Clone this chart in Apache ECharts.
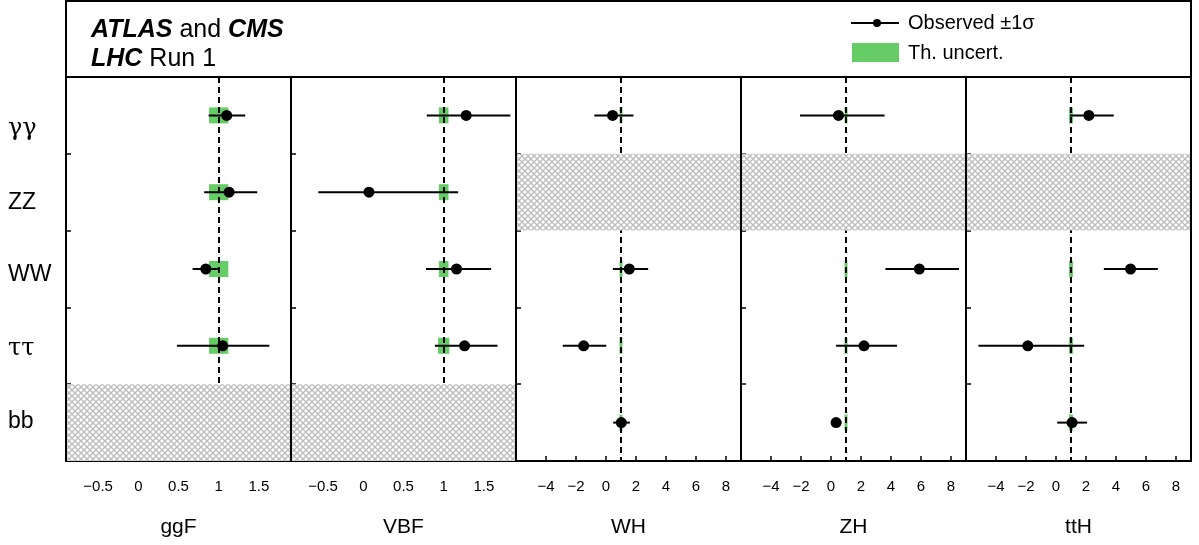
<!DOCTYPE html>
<html><head><meta charset="utf-8">
<script src="https://cdn.jsdelivr.net/npm/echarts@6/dist/echarts.min.js"></script>
<style>html,body{margin:0;padding:0;background:#fff}#c{width:1199px;height:545px}</style>
</head><body><div id="c"></div>
<script>
// ---- data ----
const productions = ['ggF', 'VBF', 'WH', 'ZH', 'ttH'];
const decays = ['γγ', 'ZZ', 'WW', 'ττ', 'bb'];
const xTicksLow = [-0.5, 0, 0.5, 1, 1.5];
const xTicksHigh = [-4, -2, 0, 2, 4, 6, 8];
const xRangeLow = [-0.9, 1.9];
const xRangeHigh = [-6, 9];
const smValue = 1;

const ggF_mu = [1.10, 1.13, 0.84, 1.05, null];
const ggF_lo = [0.875, 0.82, 0.675, 0.48, null];
const ggF_hi = [1.33, 1.48, 1.01, 1.63, null];
const ggF_th = [0.12, 0.12, 0.12, 0.12, null];

const VBF_mu = [1.28, 0.07, 1.16, 1.26, null];
const VBF_lo = [0.79, -0.56, 0.78, 0.89, null];
const VBF_hi = [1.83, 1.18, 1.59, 1.67, null];
const VBF_th = [0.06, 0.06, 0.06, 0.07, null];

const WH_mu = [0.44, null, 1.55, -1.49, 1.02];
const WH_lo = [-0.78, null, 0.46, -2.88, 0.48];
const WH_hi = [1.83, null, 2.81, 0.02, 1.59];
const WH_th = [0.1, null, 0.1, 0.1, 0.1];

const ZH_mu = [0.5, null, 5.89, 2.2, 0.34];
const ZH_lo = [-2.07, null, 3.63, 0.34, 0.0];
const ZH_hi = [3.57, null, 8.53, 4.4, 0.7];
const ZH_th = [0.1, null, 0.1, 0.1, 0.1];

const ttH_mu = [2.19, null, 4.97, -1.88, 1.07];
const ttH_lo = [0.93, null, 3.19, -5.17, 0.08];
const ttH_hi = [3.85, null, 6.79, 1.88, 2.07];
const ttH_th = [0.13, null, 0.13, 0.13, 0.13];

// ---- layout / style ----
const FONT = '"Liberation Sans", Arial, sans-serif';
const GREEN = '#66cc66';
const panels = [
  { mu: ggF_mu, lo: ggF_lo, hi: ggF_hi, th: ggF_th, range: xRangeLow, ticks: xTicksLow },
  { mu: VBF_mu, lo: VBF_lo, hi: VBF_hi, th: VBF_th, range: xRangeLow, ticks: xTicksLow },
  { mu: WH_mu, lo: WH_lo, hi: WH_hi, th: WH_th, range: xRangeHigh, ticks: xTicksHigh },
  { mu: ZH_mu, lo: ZH_lo, hi: ZH_hi, th: ZH_th, range: xRangeHigh, ticks: xTicksHigh },
  { mu: ttH_mu, lo: ttH_lo, hi: ttH_hi, th: ttH_th, range: xRangeHigh, ticks: xTicksHigh }
];
const LEFT0 = 66, PW = 225, TOP = 77, BOTTOM = 84;
const labelShift = [13, 10, 6, 3, -1];

// hatch pattern
const pat = document.createElement('canvas');
pat.width = 6; pat.height = 6;
const g = pat.getContext('2d');
g.fillStyle = '#ffffff'; g.fillRect(0, 0, 6, 6);
g.strokeStyle = '#bdbdbd'; g.lineWidth = 1.4;
g.beginPath();
g.moveTo(-1, -1); g.lineTo(7, 7);
g.moveTo(-1, 7); g.lineTo(7, -1);
g.stroke();

const grids = [], xAxes = [], yAxes = [], series = [];
const rich = {};
decays.forEach((d, i) => {
  const s = labelShift[i];
  const greek = /[γτ]/.test(d);
  rich['r' + i] = {
    fontSize: greek ? 24 : 23, color: '#000',
    fontFamily: greek ? '"DejaVu Serif", "Liberation Serif", serif' : FONT,
    padding: s >= 0 ? [2 * s, 0, 0, 0] : [0, 0, -2 * s, 0]
  };
});

panels.forEach((p, k) => {
  grids.push({ left: LEFT0 + k * PW, width: PW, top: TOP, bottom: BOTTOM,
    show: true, borderColor: '#000', borderWidth: 2, backgroundColor: 'transparent' });
  xAxes.push({
    gridIndex: k, type: 'value', min: p.range[0], max: p.range[1],
    name: productions[k], nameLocation: 'middle', nameGap: 56,
    nameTextStyle: { fontSize: 21, color: '#000', fontFamily: FONT },
    axisLine: { show: true, onZero: false, lineStyle: { color: '#000', width: 2 } },
    axisTick: { show: true, inside: true, length: 5, customValues: p.ticks,
      lineStyle: { color: '#000', width: 1.5 } },
    axisLabel: { show: true, customValues: p.ticks, margin: 18, fontSize: 15,
      color: '#000', fontFamily: FONT,
      formatter: v => String(v).replace('-', '\u2212') },
    splitLine: { show: false }
  });
  yAxes.push({
    gridIndex: k, type: 'category', data: decays, inverse: true,
    axisLine: { show: true, onZero: false, lineStyle: { color: '#000', width: 2 } },
    axisTick: { show: true, inside: true, length: 5, lineStyle: { color: '#000', width: 1.5 } },
    axisLabel: k === 0 ? {
      show: true, align: 'left', margin: 58,
      formatter: (v, idx) => '{r' + idx + '|' + v + '}', rich: rich
    } : { show: false },
    splitLine: { show: false }
  });

  const boxData = [], barData = [], ptData = [], hatchData = [];
  decays.forEach((d, r) => {
    if (p.mu[r] === null) { hatchData.push([p.range[0], r]); return; }
    boxData.push([smValue, r, p.th[r]]);
    barData.push([p.lo[r], r, p.hi[r]]);
    ptData.push([p.mu[r], r]);
  });

  series.push({
    type: 'custom', xAxisIndex: k, yAxisIndex: k, z: 1,
    encode: { x: 0, y: 1 }, data: boxData,
    renderItem: (params, api) => {
      const x = api.value(0), r = api.value(1), th = api.value(2);
      const a = api.coord([x - th, r]), b = api.coord([x + th, r]);
      return { type: 'rect', shape: { x: a[0], y: a[1] - 8, width: b[0] - a[0], height: 16 },
        style: { fill: GREEN } };
    },
    markLine: { silent: true, z: 2, symbol: 'none', label: { show: false },
      lineStyle: { type: [6, 4], color: '#000', width: 2 },
      emphasis: { disabled: true },
      data: [{ xAxis: smValue }] }
  });
  series.push({
    type: 'custom', xAxisIndex: k, yAxisIndex: k, z: 3,
    encode: { x: 0, y: 1 }, data: barData,
    renderItem: (params, api) => {
      const r = api.value(1);
      const a = api.coord([api.value(0), r]), b = api.coord([api.value(2), r]);
      return { type: 'line', shape: { x1: a[0], y1: a[1], x2: b[0], y2: b[1] },
        style: { stroke: '#000', lineWidth: 2 } };
    }
  });
  series.push({
    type: 'custom', xAxisIndex: k, yAxisIndex: k, z: 4,
    encode: { x: 0, y: 1 }, data: hatchData,
    renderItem: (params, api) => {
      const cs = params.coordSys;
      const c = api.coord([api.value(0), api.value(1)]);
      const h = api.size([0, 1])[1];
      return { type: 'rect', shape: { x: cs.x + 1, y: c[1] - h / 2, width: cs.width - 2, height: h },
        style: { fill: { image: pat, repeat: 'repeat' } } };
    }
  });
  series.push({
    type: 'scatter', xAxisIndex: k, yAxisIndex: k, z: 5,
    symbol: 'circle', symbolSize: 11, itemStyle: { color: '#000', opacity: 1 },
    data: ptData, silent: true
  });
});

const chart = echarts.init(document.getElementById('c'), null, { renderer: 'canvas' });
chart.setOption({
  animation: false,
  backgroundColor: '#fff',
  textStyle: { fontFamily: FONT },
  grid: grids, xAxis: xAxes, yAxis: yAxes, series: series,
  graphic: [
    { type: 'rect', shape: { x: 66, y: 1, width: 1125, height: 76 },
      style: { fill: 'none', stroke: '#000', lineWidth: 2 }, z: 10 },
    { type: 'text', x: 91, y: 16, z: 10,
      style: { text: '{b|ATLAS}{n| and }{b|CMS}\n{b|LHC}{n| Run 1}',
        fontFamily: FONT, fontSize: 25, lineHeight: 29, fill: '#000',
        rich: { b: { fontWeight: 'bold', fontStyle: 'italic', fontSize: 25, fontFamily: FONT, lineHeight: 29 },
                n: { fontSize: 25, fontFamily: FONT, lineHeight: 29 } } } },
    { type: 'line', shape: { x1: 851, y1: 23, x2: 899, y2: 23 }, z: 10,
      style: { stroke: '#000', lineWidth: 2 } },
    { type: 'circle', shape: { cx: 877, cy: 23, r: 4 }, z: 10, style: { fill: '#000' } },
    { type: 'text', x: 908, y: 23, z: 10,
      style: { text: 'Observed \u00b11\u03c3', fontFamily: FONT, fontSize: 20, fill: '#000',
        verticalAlign: 'middle' } },
    { type: 'rect', shape: { x: 852, y: 43, width: 47, height: 19 }, z: 10,
      style: { fill: GREEN } },
    { type: 'text', x: 908, y: 53, z: 10,
      style: { text: 'Th. uncert.', fontFamily: FONT, fontSize: 20, fill: '#000',
        verticalAlign: 'middle' } }
  ]
});
</script></body></html>
